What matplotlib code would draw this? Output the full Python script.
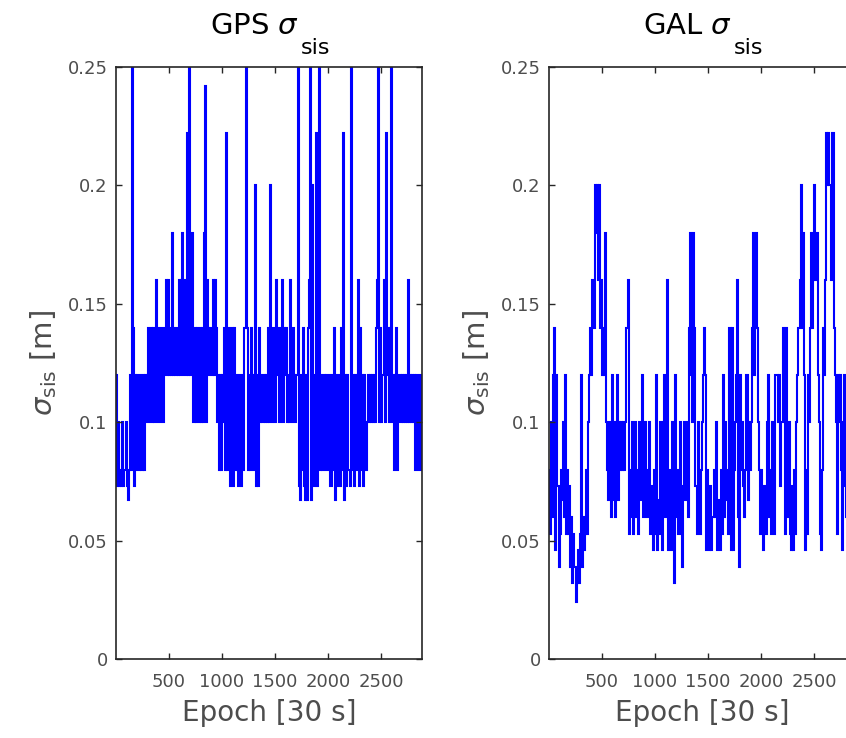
import numpy as np
import matplotlib
matplotlib.use("Agg")
import matplotlib.pyplot as plt

plt.rcParams.update({
    "font.family": "DejaVu Sans",
    "mathtext.fontset": "dejavusans",
})

# sigma_sis per block of 10 epochs (30 s sampling), metres
EPOCH_STEP = 10

gps_sigma = [
    0.12, 0.073, 0.10, 0.073, 0.08, 0.073, 0.10, 0.073, 0.08, 0.10, 0.073, 0.067, 0.08, 0.12,
    0.08, 0.30, 0.14, 0.073, 0.12, 0.08, 0.12, 0.10, 0.08, 0.12, 0.08, 0.12, 0.08, 0.12,
    0.10, 0.12, 0.14, 0.10, 0.12, 0.14, 0.10, 0.14, 0.10, 0.12, 0.16, 0.10, 0.14, 0.10, 0.12, 0.14, 0.10,
    0.12, 0.14, 0.16, 0.12, 0.16, 0.12, 0.14, 0.12, 0.18, 0.12, 0.14, 0.12, 0.14, 0.12, 0.16, 0.12,
    0.16, 0.18, 0.12, 0.14, 0.16, 0.12, 0.222, 0.12, 0.30, 0.12, 0.14,
    0.18, 0.10, 0.14, 0.10, 0.14, 0.12, 0.10, 0.14, 0.10, 0.14, 0.10, 0.18, 0.242, 0.10,
    0.16, 0.14, 0.12, 0.14, 0.12, 0.16, 0.12, 0.16,
    0.14, 0.10, 0.12, 0.08, 0.12, 0.08, 0.12, 0.10, 0.14, 0.08, 0.222, 0.08, 0.14, 0.073, 0.12,
    0.14, 0.073, 0.14, 0.08, 0.12, 0.08, 0.073, 0.12, 0.08, 0.073, 0.12, 0.08, 0.14, 0.30, 0.14,
    0.08, 0.12, 0.08, 0.14, 0.12, 0.08, 0.12, 0.20, 0.073, 0.12, 0.073, 0.14,
    0.10, 0.12, 0.10, 0.12, 0.10, 0.12, 0.10, 0.14, 0.10, 0.20, 0.12, 0.10, 0.14, 0.12, 0.10, 0.16,
    0.12, 0.14, 0.10, 0.14, 0.16, 0.10, 0.14, 0.12, 0.14, 0.10, 0.12, 0.10, 0.16, 0.12, 0.10, 0.14,
    0.12, 0.10, 0.12,
    0.30, 0.073, 0.067, 0.12, 0.08, 0.14, 0.073, 0.067, 0.12, 0.067, 0.14, 0.16, 0.30, 0.067, 0.20,
    0.073, 0.12, 0.222, 0.073, 0.14, 0.30, 0.08, 0.12, 0.08, 0.10, 0.12, 0.08, 0.12, 0.10, 0.08,
    0.12, 0.073, 0.12, 0.08, 0.14, 0.067, 0.12, 0.073, 0.10, 0.12, 0.073, 0.14, 0.08, 0.222, 0.067,
    0.12, 0.073, 0.12, 0.08, 0.073, 0.30, 0.08, 0.12, 0.073, 0.12, 0.08, 0.12, 0.16, 0.073, 0.14,
    0.08, 0.12, 0.073, 0.12, 0.08,
    0.10, 0.12, 0.10, 0.12, 0.10, 0.12, 0.10, 0.12, 0.10, 0.14, 0.16, 0.30, 0.10, 0.14, 0.10, 0.12,
    0.16, 0.10, 0.222, 0.12, 0.14, 0.10, 0.14, 0.30, 0.10, 0.12,
    0.08, 0.12, 0.14, 0.08, 0.10, 0.12, 0.10, 0.12, 0.10, 0.12, 0.10, 0.12, 0.10, 0.16, 0.10, 0.12,
    0.10, 0.12, 0.10, 0.12, 0.08, 0.12, 0.08, 0.10, 0.12, 0.08,
]

gal_sigma = [
    0.08, 0.053, 0.10, 0.06, 0.12, 0.14, 0.046, 0.12, 0.073, 0.039, 0.053, 0.08, 0.067, 0.10, 0.06,
    0.12, 0.053, 0.08, 0.053, 0.073, 0.039, 0.06, 0.032, 0.053, 0.039, 0.024, 0.032, 0.046, 0.032,
    0.053, 0.12, 0.039, 0.06, 0.046, 0.053, 0.08,
    0.053, 0.10, 0.12, 0.14, 0.12, 0.16, 0.14, 0.20, 0.18, 0.20, 0.16, 0.20, 0.14, 0.16, 0.12, 0.14,
    0.12, 0.18,
    0.10, 0.08, 0.067, 0.10, 0.06, 0.12, 0.067, 0.10, 0.06, 0.08, 0.12, 0.067, 0.10, 0.08, 0.10,
    0.08, 0.10, 0.08, 0.10, 0.14, 0.16, 0.053, 0.08, 0.06, 0.10, 0.053, 0.067, 0.10, 0.06, 0.08,
    0.053, 0.10, 0.067, 0.08, 0.12, 0.06, 0.10, 0.073, 0.06, 0.08, 0.10, 0.053, 0.073, 0.06, 0.046,
    0.08, 0.053, 0.12, 0.046, 0.067, 0.053, 0.10, 0.046, 0.073, 0.12, 0.06, 0.08, 0.16, 0.046, 0.08,
    0.053, 0.046, 0.10, 0.06, 0.032, 0.12, 0.06, 0.08, 0.053, 0.10, 0.06, 0.039, 0.073, 0.10, 0.067,
    0.08, 0.10, 0.06,
    0.14, 0.18, 0.12, 0.10, 0.18, 0.14, 0.073, 0.053, 0.10, 0.06, 0.053, 0.08, 0.10, 0.12, 0.14,
    0.12, 0.046, 0.08, 0.053, 0.046, 0.073, 0.046, 0.06, 0.08, 0.06, 0.10, 0.046, 0.067, 0.053,
    0.046, 0.08, 0.053, 0.12, 0.06, 0.10, 0.067, 0.08, 0.053, 0.14, 0.046, 0.14, 0.046, 0.08, 0.10,
    0.12, 0.16, 0.06, 0.039, 0.12, 0.08, 0.10, 0.073, 0.06, 0.08, 0.12, 0.067, 0.10, 0.08, 0.10,
    0.14, 0.18, 0.12, 0.14, 0.18, 0.14, 0.10, 0.08, 0.053, 0.08, 0.06, 0.046, 0.073, 0.053, 0.10,
    0.12, 0.06, 0.08, 0.053, 0.10, 0.06, 0.053, 0.12, 0.12, 0.12, 0.10, 0.12, 0.073, 0.10, 0.14,
    0.12, 0.053, 0.14, 0.08, 0.06, 0.10, 0.053, 0.046, 0.073, 0.046, 0.08, 0.053, 0.10, 0.12, 0.14,
    0.16, 0.20, 0.14, 0.18, 0.12, 0.046, 0.08, 0.053, 0.12, 0.10, 0.14, 0.18, 0.14, 0.16, 0.20,
    0.16, 0.18, 0.12, 0.10, 0.053, 0.046, 0.08, 0.14, 0.12, 0.16, 0.222, 0.20, 0.222, 0.20, 0.20,
    0.16, 0.222, 0.14, 0.12, 0.10, 0.053, 0.12, 0.10, 0.12, 0.08, 0.046, 0.10, 0.12, 0.073, 0.06,
    0.10, 0.08, 0.10, 0.08, 0.10, 0.08, 0.10,
]

systems = ["GPS", "GAL"]
x_ticks = [500, 1000, 1500, 2000, 2500]
y_ticks = [0, 0.05, 0.1, 0.15, 0.2, 0.25]
y_tick_labels = ["0", "0.05", "0.1", "0.15", "0.2", "0.25"]

LINE = "#0000ff"
AXC = "#262626"
LABC = "#4d4d4d"

fig = plt.figure(figsize=(8.46, 7.38), dpi=100)
positions = [[0.1371, 0.1070, 0.3613, 0.8022],
             [0.6489, 0.1070, 0.3613, 0.8022]]

for pos, name, sig in zip(positions, systems, [gps_sigma, gal_sigma]):
    ax = fig.add_axes(pos)
    sig = np.asarray(sig)
    edges = np.arange(len(sig) + 1) * EPOCH_STEP + 1
    ax.stairs(sig, edges, color=LINE, lw=1.5, baseline=None)

    ax.set_xlim(1, 2880)
    ax.set_ylim(0, 0.25)
    ax.set_xticks(x_ticks)
    ax.set_xticklabels([str(t) for t in x_ticks])
    ax.set_yticks(y_ticks)
    ax.set_yticklabels(y_tick_labels)
    ax.tick_params(direction="in", length=4.5, width=1.0, color=AXC,
                   labelcolor=LABC, labelsize=13, top=True, right=True)
    ax.tick_params(axis="x", pad=10)
    ax.tick_params(axis="y", pad=6)
    for sp in ax.spines.values():
        sp.set_color(AXC)
        sp.set_linewidth(1.2)

    # title: name + sigma, with a lowered "sis" subscript after it
    head = ax.annotate(name + r" $\sigma$", xy=(0.5, 1.0), xycoords="axes fraction",
                       xytext=(-10, 24), textcoords="offset points",
                       ha="center", va="baseline", fontsize=21, color="black")
    ax.annotate("sis", xy=(1.0, 0.0), xycoords=head,
                xytext=(1, -10), textcoords="offset points",
                ha="left", va="baseline", fontsize=16, color="black")

    ax.set_xlabel("Epoch [30 s]", fontsize=20, color=LABC, labelpad=6)
    ax.set_ylabel(r"$\sigma_{\mathrm{sis}}$ [m]", fontsize=21, color=LABC, labelpad=6)

fig.savefig("out.png", dpi=100)
